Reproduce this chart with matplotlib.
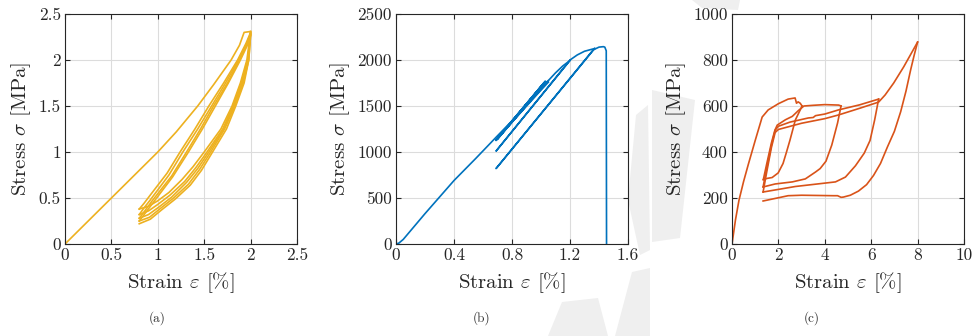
import matplotlib
matplotlib.use("Agg")
import matplotlib.pyplot as plt
from matplotlib.patches import Polygon

plt.rcParams['font.family'] = ['cmr10']
plt.rcParams['mathtext.fontset'] = 'cm'
plt.rcParams['axes.formatter.use_mathtext'] = True
plt.rcParams['axes.unicode_minus'] = False

# ---------------- Panel (a) data ----------------
a_load_x = [0.0, 0.25, 0.5, 0.75, 1.0, 1.2, 1.43, 1.6, 1.79, 1.88, 1.93, 2.0]
a_load_y = [0.0, 0.25, 0.5, 0.75, 1.0, 1.22, 1.5, 1.73, 2.0, 2.16, 2.3, 2.31]

a_unload1_x = [2.0, 1.96, 1.89, 1.8, 1.68, 1.5, 1.38, 1.26, 1.12, 1.0, 0.9, 0.8]
a_unload1_y = [2.31, 2.0, 1.75, 1.5, 1.25, 1.0, 0.84, 0.7, 0.56, 0.47, 0.41, 0.38]
a_reload1_x = [0.8, 0.85, 0.91, 1.1, 1.24, 1.4, 1.55, 1.71, 1.86, 1.95, 2.0]
a_reload1_y = [0.38, 0.44, 0.52, 0.77, 1.0, 1.25, 1.5, 1.75, 2.0, 2.18, 2.3]

a_unload2_x = [2.0, 1.97, 1.9, 1.81, 1.7, 1.53, 1.41, 1.29, 1.13, 1.0, 0.9, 0.8]
a_unload2_y = [2.3, 2.0, 1.75, 1.5, 1.25, 1.0, 0.83, 0.68, 0.53, 0.43, 0.36, 0.32]
a_reload2_x = [0.8, 0.85, 0.92, 1.12, 1.27, 1.43, 1.58, 1.73, 1.87, 1.96, 2.0]
a_reload2_y = [0.32, 0.39, 0.48, 0.75, 1.0, 1.25, 1.5, 1.75, 2.0, 2.18, 2.29]

a_unload3_x = [2.0, 1.97, 1.91, 1.82, 1.71, 1.55, 1.43, 1.31, 1.15, 1.01, 0.9, 0.8]
a_unload3_y = [2.29, 2.0, 1.75, 1.5, 1.25, 1.0, 0.82, 0.67, 0.51, 0.4, 0.32, 0.28]
a_reload3_x = [0.8, 0.86, 0.94, 1.15, 1.31, 1.46, 1.6, 1.75, 1.88, 1.96, 2.0]
a_reload3_y = [0.28, 0.36, 0.47, 0.74, 1.0, 1.25, 1.5, 1.75, 2.0, 2.17, 2.28]

a_unload4_x = [2.0, 1.98, 1.92, 1.83, 1.72, 1.57, 1.45, 1.33, 1.17, 1.02, 0.91, 0.8]
a_unload4_y = [2.28, 2.0, 1.75, 1.5, 1.25, 1.0, 0.81, 0.65, 0.5, 0.38, 0.29, 0.25]
a_reload4_x = [0.8, 0.86, 0.95, 1.16, 1.33, 1.48, 1.62, 1.76, 1.89, 1.97, 2.0]
a_reload4_y = [0.25, 0.33, 0.45, 0.73, 1.0, 1.25, 1.5, 1.75, 2.0, 2.17, 2.27]

a_unload5_x = [2.0, 1.98, 1.93, 1.84, 1.74, 1.59, 1.47, 1.35, 1.19, 1.04, 0.92, 0.8]
a_unload5_y = [2.27, 2.0, 1.75, 1.5, 1.25, 1.0, 0.8, 0.64, 0.49, 0.37, 0.27, 0.22]

# ---------------- Panel (b) data ----------------
b_load_x = [0.0, 0.02, 0.05, 0.2, 0.4, 0.55, 0.69, 0.85, 1.0, 1.05]
b_load_y = [0.0, 10, 50, 330, 690, 930, 1160, 1420, 1680, 1760]
b_small_x = [1.05, 0.70, 1.03, 0.69, 1.02, 0.70, 1.04, 0.69, 1.03, 0.70, 1.05]
b_small_y = [1760, 1150, 1770, 1130, 1750, 1140, 1765, 1125, 1760, 1150, 1775]
b_load2_x = [1.05, 1.1, 1.15, 1.2]
b_load2_y = [1775, 1860, 1935, 1995]
b_cyc2_x = [1.2, 0.69, 1.18, 1.2, 1.25, 1.3, 1.37]
b_cyc2_y = [1995, 1010, 1960, 2000, 2055, 2095, 2125]
b_cyc3_x = [1.37, 0.69, 1.36, 1.40, 1.43, 1.44, 1.45, 1.452]
b_cyc3_y = [2125, 820, 2110, 2140, 2145, 2140, 2100, 0]

# ---------------- Panel (c) data ----------------
c_load1_x = [0.0, 0.15, 0.3, 0.5, 0.7, 1.0, 1.3, 1.56, 2.0, 2.42, 2.72, 2.78, 2.85, 2.94, 3.02]
c_load1_y = [0, 105, 190, 272, 345, 450, 552, 583, 610, 630, 635, 612, 618, 612, 600]
c_unload1_x = [3.02, 2.94, 2.73, 2.5, 2.35, 2.2, 1.99, 1.73, 1.5, 1.35]
c_unload1_y = [600, 583, 539, 452, 400, 350, 309, 289, 285, 280]
c_reload2_x = [1.35, 1.5, 1.7, 1.85, 1.95, 2.3, 2.6, 2.86, 3.1, 3.5, 4.0, 4.6, 4.7]
c_reload2_y = [280, 350, 440, 495, 517, 540, 555, 580, 600, 603, 606, 604, 600]
c_unload2_x = [4.7, 4.55, 4.3, 4.05, 3.8, 3.6, 3.16, 2.6, 1.86, 1.34]
c_unload2_y = [600, 526, 430, 360, 328, 313, 283, 270, 261, 248]
c_reload3_x = [1.34, 1.5, 1.7, 1.86, 2.0, 2.5, 3.29, 3.5, 3.6, 4.0, 4.59, 5.5, 6.32]
c_reload3_y = [248, 330, 430, 495, 512, 530, 548, 550, 558, 565, 583, 605, 630]
c_unload3_x = [6.32, 6.15, 5.95, 5.7, 5.32, 4.89, 4.46, 2.73, 1.34]
c_unload3_y = [630, 540, 450, 395, 340, 291, 270, 250, 226]
c_reload4_x = [1.34, 1.5, 1.7, 1.86, 2.0, 3.0, 4.0, 4.59, 5.5, 6.32, 6.6, 6.97, 7.4, 8.0]
c_reload4_y = [226, 315, 420, 485, 498, 525, 545, 561, 590, 617, 648, 700, 770, 878]
c_unload4_x = [8.0, 7.85, 7.7, 7.5, 7.27, 7.0, 6.7, 6.4, 6.1, 5.8, 5.45, 5.1, 4.8, 4.7, 4.55, 4.37, 3.0, 2.42, 1.34]
c_unload4_y = [878, 820, 757, 665, 575, 490, 422, 350, 298, 258, 230, 212, 204, 203, 210, 210, 212, 210, 187]

# ---------------- Axis tick labels ----------------
a_xticks = [0, 0.5, 1, 1.5, 2, 2.5]
a_yticks = [0, 0.5, 1, 1.5, 2, 2.5]
b_xticks = [0, 0.4, 0.8, 1.2, 1.6]
b_yticks = [0, 500, 1000, 1500, 2000, 2500]
c_xticks = [0, 2, 4, 6, 8, 10]
c_yticks = [0, 200, 400, 600, 800, 1000]
captions = ['(a)', '(b)', '(c)']

col_a = '#EDB120'
col_b = '#0072BD'
col_c = '#D95319'

W, H = 974, 336
fig = plt.figure(figsize=(W / 100, H / 100), dpi=100)

# faint background watermark shapes (figure pixel coordinates)
wm_col = '#efefef'
for poly in [
    [(636, 115), (648, 105), (650, 250), (640, 255), (628, 200)],
    [(652, 90), (695, 100), (680, 238), (652, 242)],
    [(548, 336), (562, 302), (598, 298), (608, 336)],
    [(615, 336), (632, 272), (650, 268), (650, 336)],
    [(692, 0), (740, 0), (738, 10), (702, 8)],
]:
    fig.patches.append(Polygon([(x / W, 1 - y / H) for x, y in poly], closed=True,
                               transform=fig.transFigure, facecolor=wm_col,
                               edgecolor='none', zorder=-10))

def style(ax, xt, yt):
    ax.set_xticks(xt)
    ax.set_yticks(yt)
    ax.set_xticklabels([('%g' % v) for v in xt])
    ax.set_yticklabels([('%g' % v) for v in yt])
    ax.set_xlim(xt[0], xt[-1])
    ax.set_ylim(yt[0], yt[-1])
    ax.grid(True, color='#dcdcdc', linewidth=0.8)
    ax.set_axisbelow(True)
    ax.tick_params(direction='in', length=3.5, width=0.8, colors='#262626',
                   labelsize=12.5, top=True, right=True, pad=3)
    for s in ax.spines.values():
        s.set_color('#262626')
        s.set_linewidth(0.8)
    ax.set_xlabel('Strain $\\varepsilon$ [%]', fontsize=15, color='#262626', labelpad=5)
    ax.set_ylabel('Stress $\\sigma$ [MPa]', fontsize=15, color='#262626', labelpad=4)

axw, axh = 232 / W, 230 / H
axb = 1 - 244 / H
axA = fig.add_axes([65 / W, axb, axw, axh])
axB = fig.add_axes([396 / W, axb, axw, axh])
axC = fig.add_axes([732 / W, axb, axw, axh])

lw = 1.2
axA.plot(a_load_x, a_load_y, color=col_a, lw=lw)
for xs, ys in [(a_unload1_x, a_unload1_y), (a_reload1_x, a_reload1_y),
               (a_unload2_x, a_unload2_y), (a_reload2_x, a_reload2_y),
               (a_unload3_x, a_unload3_y), (a_reload3_x, a_reload3_y),
               (a_unload4_x, a_unload4_y), (a_reload4_x, a_reload4_y),
               (a_unload5_x, a_unload5_y)]:
    axA.plot(xs, ys, color=col_a, lw=lw)
style(axA, a_xticks, a_yticks)

for xs, ys in [(b_load_x, b_load_y), (b_small_x, b_small_y), (b_load2_x, b_load2_y),
               (b_cyc2_x, b_cyc2_y), (b_cyc3_x, b_cyc3_y)]:
    axB.plot(xs, ys, color=col_b, lw=lw)
style(axB, b_xticks, b_yticks)

for xs, ys in [(c_load1_x, c_load1_y), (c_unload1_x, c_unload1_y),
               (c_reload2_x, c_reload2_y), (c_unload2_x, c_unload2_y),
               (c_reload3_x, c_reload3_y), (c_unload3_x, c_unload3_y),
               (c_reload4_x, c_reload4_y), (c_unload4_x, c_unload4_y)]:
    axC.plot(xs, ys, color=col_c, lw=lw)
style(axC, c_xticks, c_yticks)

for lab, xc in zip(captions, [157, 482, 812]):
    fig.text(xc / W, 1 - 318 / H, lab, ha='center', va='center', fontsize=9.5,
             family=['cmr10'], color='#333333')

fig.savefig('out.png', dpi=100)
